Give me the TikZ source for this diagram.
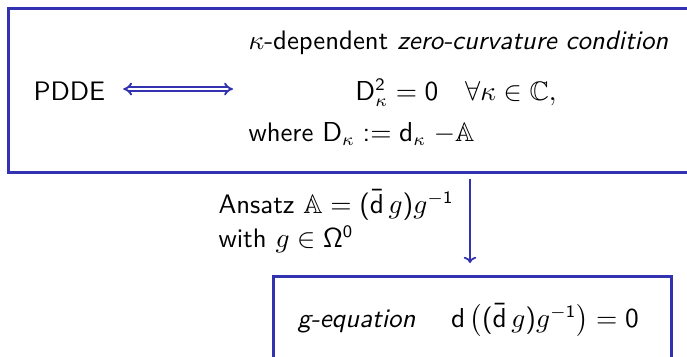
\documentclass[tikz,border=0pt]{standalone}
\usepackage{amsmath,amssymb}
\usepackage{tikz}
\usetikzlibrary{arrows.meta,positioning}
\usepackage{xcolor}
% sans digits and operators, as on a slide
\DeclareSymbolFont{operators}{OT1}{cmss}{m}{n}
\SetSymbolFont{operators}{bold}{OT1}{cmss}{bx}{n}
\definecolor{structblue}{rgb}{0.2,0.2,0.7}
\tikzset{
  panel/.style={draw=structblue, line width=1pt, inner sep=0pt, anchor=north west},
  lbl/.style={inner sep=0pt, anchor=base west, font=\sffamily\fontsize{10.7}{13}\selectfont},
  flow/.style={draw=structblue, line width=0.7pt, -{To[length=2.5pt,width=5pt]}},
  equiv/.style={draw=structblue, line width=0.75pt, double=white, double distance=0.9pt,
                {Implies[length=4pt,width=6.5pt]}-{Implies[length=4pt,width=6.5pt]}}
}

\begin{document}
\begin{tikzpicture}[x=0.4pt, y=0.4pt]
  \useasboundingbox (0,0) rectangle (687,356);
  \clip (0,0) rectangle (687,356);
  % boxes
  \node[panel, minimum width=285.2pt, minimum height=65.6pt] (zcc) at (7,349) {};
  \node[panel, minimum width=159.2pt, minimum height=40.4pt] (geq) at (272,81) {};
  % top box contents
  \node[lbl] (pdde) at (33,256) {PDDE};
  \coordinate (dblend) at (233,267);
  \draw[equiv, shorten <=7pt] (pdde.east |- dblend) -- (dblend);
  \node[lbl] (kdep) at (248,307) {$\kappa$-dependent \emph{zero-curvature condition}};
  \node[lbl, anchor=base] (dsq) at (456,256) {$\mathsf{D}_\kappa^2 = 0 \quad \forall\kappa\in\mathbb{C},$};
  \node[lbl] (where) at (248,215) {where $\mathsf{D}_\kappa := \mathsf{d}_\kappa\;{-}\mathbb{A}$};
  % ansatz
  \node[lbl] (ansatz) at (218,143) {Ansatz $\mathbb{A} = (\bar{\mathsf{d}}\,g)g^{-1}$};
  \node[lbl] (with) at (218,109) {with $g\in\Omega^0$};
  \coordinate (arr) at (470,0);
  \draw[flow, shorten <=2pt, shorten >=4.8pt] (zcc.south -| arr) -- (geq.north -| arr);
  % bottom box contents
  \node[lbl] (gtext) at (297,29) {\emph{g-equation}\quad\ $\mathsf{d}\,\big((\bar{\mathsf{d}}\,g)g^{-1}\big) = 0$};
\end{tikzpicture}
\end{document}
